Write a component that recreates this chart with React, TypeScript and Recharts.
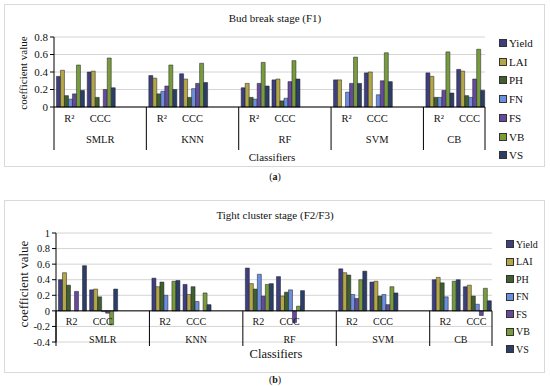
import React from 'react';
import { BarChart, Bar, XAxis, YAxis, CartesianGrid, Legend, ReferenceLine } from 'recharts';

const classifiers = ['SMLR', 'KNN', 'RF', 'SVM', 'CB'];
const metricsA = ['R²', 'CCC'];
const metricsB = ['R2', 'CCC'];
const seriesNames = ['Yield', 'LAI', 'PH', 'FN', 'FS', 'VB', 'VS'];
const seriesColors = ['#3e3f7e', '#b2a646', '#3f5f2e', '#6b8fdc', '#654a9c', '#789c3c', '#2c3e66'];

// order: SMLR R2, SMLR CCC, KNN R2, KNN CCC, RF R2, RF CCC, SVM R2, SVM CCC, CB R2, CB CCC
const budYield = [0.35, 0.40, 0.36, 0.38, 0.22, 0.31, 0.31, 0.39, 0.39, 0.43];
const budLAI = [0.42, 0.41, 0.33, 0.32, 0.27, 0.32, 0.31, 0.40, 0.35, 0.41];
const budPH = [0.13, 0.11, 0.15, 0.11, 0.11, 0.07, 0, 0, 0.11, 0.13];
const budFN = [0.09, 0, 0.18, 0.21, 0.09, 0.10, 0.17, 0.14, 0.11, 0.11];
const budFS = [0.15, 0.20, 0.24, 0.27, 0.27, 0.29, 0.27, 0.30, 0.19, 0.32];
const budVB = [0.48, 0.56, 0.48, 0.50, 0.51, 0.53, 0.57, 0.62, 0.63, 0.66];
const budVS = [0.19, 0.22, 0.20, 0.28, 0.24, 0.32, 0.27, 0.29, 0.16, 0.19];

const tightYield = [0.40, 0.27, 0.42, 0.34, 0.55, 0.44, 0.54, 0.37, 0.40, 0.31];
const tightLAI = [0.49, 0.28, 0.31, 0.21, 0.35, 0.19, 0.49, 0.38, 0.43, 0.33];
const tightPH = [0.33, 0.18, 0.37, 0.31, 0.28, 0.24, 0.46, 0.19, 0.36, 0.19];
const tightFN = [0, -0.01, 0.20, 0.12, 0.47, 0.27, 0.21, 0.21, 0.18, 0.085];
const tightFS = [0.25, -0.03, 0, 0, 0.19, -0.15, 0.16, 0.08, 0, -0.06];
const tightVB = [0, -0.18, 0.38, 0.23, 0.34, 0.06, 0.40, 0.31, 0.38, 0.29];
const tightVS = [0.58, 0.28, 0.39, 0.08, 0.35, 0.26, 0.51, 0.23, 0.40, 0.13];

const budSeries = [budYield, budLAI, budPH, budFN, budFS, budVB, budVS];
const tightSeries = [tightYield, tightLAI, tightPH, tightFN, tightFS, tightVB, tightVS];

const yTicksA = [0, 0.2, 0.4, 0.6, 0.8];
const yTicksB = [-0.4, -0.2, 0, 0.2, 0.4, 0.6, 0.8, 1];

const FONT = '"Liberation Serif", "DejaVu Serif", serif';

function buildRows(metrics: string[], series: number[][]) {
  const rows: any[] = [];
  classifiers.forEach((g, gi) => {
    const n = gi === classifiers.length - 1 ? 2 : 3;
    for (let k = 0; k < n; k++) {
      const row: any = { key: g + '|' + k, group: g, inner: k < 2 ? metrics[k] : '', first: k === 0, size: n };
      seriesNames.forEach((s, si) => {
        row[s] = k < 2 ? series[si][gi * 2 + k] : null;
      });
      rows.push(row);
    }
  });
  return rows;
}

const rowsA = buildRows(metricsA, budSeries);
const rowsB = buildRows(metricsB, tightSeries);

function makeTick(rows: any[], o: { bw: number; labelY: number; groupY: number; sepTop: number; sepBottom: number; fs: number }) {
  return (props: any) => {
    const { x, index } = props;
    const r = rows[index];
    if (!r) return <g />;
    return (
      <g>
        {r.inner ? (
          <text x={x} y={o.labelY} textAnchor="middle" dominantBaseline="middle" fontSize={o.fs} fontFamily={FONT} fill="#111">
            {r.inner}
          </text>
        ) : null}
        {r.first ? (
          <g>
            <line x1={x - o.bw / 2} x2={x - o.bw / 2} y1={o.sepTop} y2={o.sepBottom} stroke="#000" strokeWidth={1} />
            <text x={x + ((r.size - 1) / 2) * o.bw} y={o.groupY} textAnchor="middle" dominantBaseline="middle" fontSize={o.fs} fontFamily={FONT} fill="#111">
              {r.group}
            </text>
          </g>
        ) : null}
        {index === rows.length - 1 ? (
          <line x1={x + o.bw / 2} x2={x + o.bw / 2} y1={o.sepTop} y2={o.sepBottom} stroke="#000" strokeWidth={1} />
        ) : null}
      </g>
    );
  };
}

function LegendBox({ top, left, gap, fs }: { top: number; left: number; gap: number; fs: number }) {
  return (
    <div style={{ position: 'absolute', top, left, fontFamily: FONT, fontSize: fs, color: '#111' }}>
      {seriesNames.map((s, i) => (
        <div key={s} style={{ position: 'absolute', top: i * gap, left: 0, whiteSpace: 'nowrap', display: 'flex', alignItems: 'center', height: 12 }}>
          <span style={{ display: 'inline-block', width: 6, height: 6, background: seriesColors[i], border: '0.5px solid #333', marginRight: 2 }} />
          <span>{s}</span>
        </div>
      ))}
    </div>
  );
}

function Panel() {
  // chart (a) geometry
  const aLeft = 54, aRight = 485, aTop = 37, aBottom = 107, aH = 170;
  const bwA = (aRight - aLeft) / rowsA.length;
  // chart (b) geometry (svg top at 190)
  const bOff = 190;
  const bLeft = 56, bRight = 492, bTop = 233, bBottom = 342, bH = 190;
  const bwB = (bRight - bLeft) / rowsB.length;
  const zeroB = bTop + (1 / 1.4) * (bBottom - bTop);

  const tickA = makeTick(rowsA, { bw: bwA, labelY: 120, groupY: 141, sepTop: aBottom, sepBottom: 150, fs: 10.5 });
  const tickB = makeTick(rowsB, { bw: bwB, labelY: 323 - bOff, groupY: 341 - bOff, sepTop: zeroB - bOff, sepBottom: 346 - bOff, fs: 10 });

  const textDiv = (txt: any, x: number, y: number, fs: number, extra: any = {}) => (
    <div style={{ position: 'absolute', left: x, top: y, transform: 'translate(-50%, -50%)', fontFamily: FONT, fontSize: fs, color: '#111', whiteSpace: 'nowrap', ...extra }}>
      {txt}
    </div>
  );

  return (
    <div style={{ position: 'absolute', left: 0, top: 0, width: 550, height: 386, background: '#fff', overflow: 'hidden' }}>
      <div style={{ position: 'absolute', left: 4, top: 4, width: 539, height: 161, border: '1px solid #d9d9d9' }} />
      <div style={{ position: 'absolute', left: 4, top: 200, width: 539, height: 171, border: '1px solid #d9d9d9' }} />

      <div style={{ position: 'absolute', left: 0, top: 0 }}>
        <BarChart width={550} height={aH} data={rowsA} margin={{ top: aTop, left: aLeft - 30, right: 550 - aRight, bottom: aH - aBottom - 50 }} barCategoryGap="8%" barGap={0}>
          <CartesianGrid vertical={false} stroke="#d4d4d4" />
          <XAxis dataKey="key" interval={0} height={50} axisLine={{ stroke: '#000' }} tickLine={false} tick={tickA} />
          <YAxis width={30} domain={[0, 0.8]} ticks={yTicksA} tickFormatter={(v: number) => String(v)} axisLine={{ stroke: '#000' }} tickLine={{ stroke: '#000' }} tickSize={4} tick={{ fontSize: 11, fontFamily: FONT, fill: '#111' }} interval={0} />
          {seriesNames.map((s, i) => (
            <Bar key={s} dataKey={s} fill={seriesColors[i]} stroke="#1c1c28" strokeWidth={0.5} isAnimationActive={false} />
          ))}
          <Legend content={() => null} />
        </BarChart>
      </div>

      <div style={{ position: 'absolute', left: 0, top: bOff }}>
        <BarChart width={550} height={bH} data={rowsB} margin={{ top: bTop - bOff, left: bLeft - 30, right: 550 - bRight, bottom: bH - (bBottom - bOff) - 30 }} barCategoryGap="8%" barGap={0}>
          <CartesianGrid vertical={false} stroke="#d4d4d4" />
          <XAxis dataKey="key" interval={0} height={30} axisLine={false} tickLine={false} tick={tickB} />
          <YAxis width={30} domain={[-0.4, 1]} ticks={yTicksB} tickFormatter={(v: number) => String(v)} axisLine={{ stroke: '#000' }} tickLine={{ stroke: '#000' }} tickSize={4} tick={{ fontSize: 10.5, fontFamily: FONT, fill: '#111' }} interval={0} />
          {seriesNames.map((s, i) => (
            <Bar key={s} dataKey={s} fill={seriesColors[i]} stroke="#1c1c28" strokeWidth={0.5} isAnimationActive={false} />
          ))}
          <ReferenceLine y={0} stroke="#000" strokeWidth={1} />
        </BarChart>
      </div>

      {textDiv('Bud break stage (F1)', 275, 18, 11)}
      {textDiv('Tight cluster stage (F2/F3)', 275, 215, 11)}
      {textDiv('Classifiers', 272, 157, 11)}
      {textDiv('Classifiers', 276, 354, 12.5)}
      {textDiv('coefficient value', 23, 73, 11, { transform: 'translate(-50%, -50%) rotate(-90deg)' })}
      {textDiv('coefficient value', 24, 284, 13, { transform: 'translate(-50%, -50%) rotate(-90deg)' })}
      {textDiv(<span>(<b>a</b>)</span>, 275, 176, 10)}
      {textDiv(<span>(<b>b</b>)</span>, 275, 379, 10)}

      <LegendBox top={37} left={499} gap={18.7} fs={11} />
      <LegendBox top={238} left={506} gap={17.5} fs={10} />
    </div>
  );
}

export default function App() {
  return <Panel />;
}
